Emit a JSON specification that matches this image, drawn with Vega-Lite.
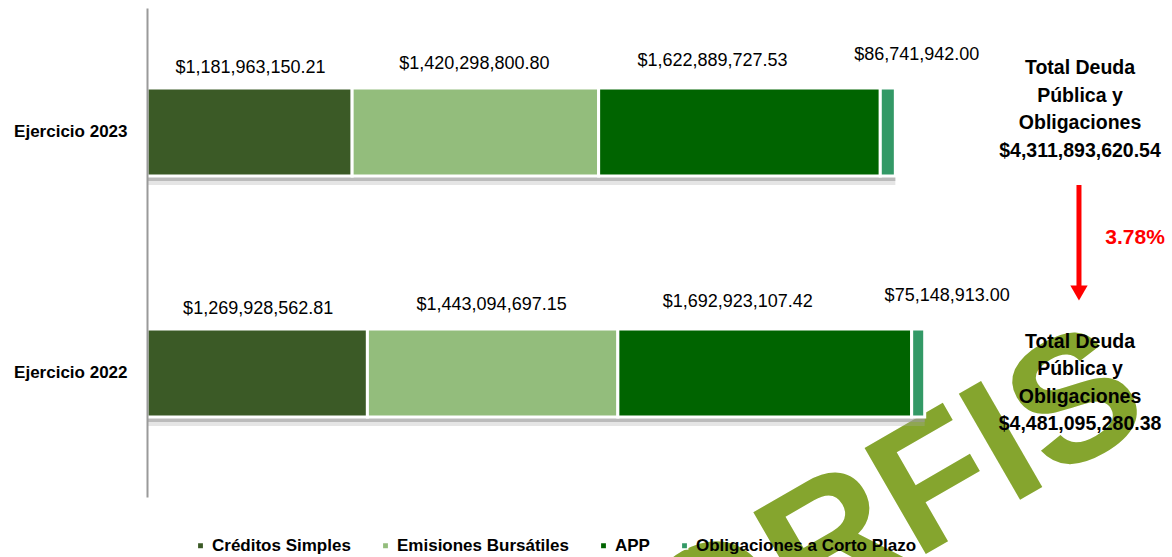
{
  "$schema": "https://vega.github.io/schema/vega-lite/v6.json",
  "width": 1025,
  "height": 489,
  "autosize": {"type": "none"},
  "padding": {"left": 147, "top": 8, "right": 0, "bottom": 60},
  "background": "white",
  "config": {
    "view": {"stroke": null},
    "font": "Liberation Sans"
  },
  "datasets": {
    "deuda": [
      {"year": "Ejercicio 2023", "cat": "Créditos Simples", "order": 1, "value": 1181963150.21},
      {"year": "Ejercicio 2023", "cat": "Emisiones Bursátiles", "order": 2, "value": 1420298800.80},
      {"year": "Ejercicio 2023", "cat": "APP", "order": 3, "value": 1622889727.53},
      {"year": "Ejercicio 2023", "cat": "Obligaciones a Corto Plazo", "order": 4, "value": 86741942.00},
      {"year": "Ejercicio 2022", "cat": "Créditos Simples", "order": 1, "value": 1269928562.81},
      {"year": "Ejercicio 2022", "cat": "Emisiones Bursátiles", "order": 2, "value": 1443094697.15},
      {"year": "Ejercicio 2022", "cat": "APP", "order": 3, "value": 1692923107.42},
      {"year": "Ejercicio 2022", "cat": "Obligaciones a Corto Plazo", "order": 4, "value": 75148913.00}
    ]
  },
  "resolve": {"scale": {"y": "independent"}},
  "layer": [
    {
      "data": {"values": [{}]},
      "mark": {"type": "text", "text": "ORFIS", "font": "Liberation Sans", "fontWeight": "bold", "fontSize": 178, "angle": -30, "align": "center", "baseline": "middle", "color": "#85A52E"},
      "encoding": {
        "x": {"datum": 4300000000, "type": "quantitative", "scale": {"domain": [0, 5906000000], "nice": false, "zero": true}, "axis": null},
        "y": {"datum": -0.3, "type": "quantitative", "scale": {"domain": [0, 10], "nice": false}, "axis": null}
      }
    },
    {
      "data": {"name": "deuda"},
      "mark": {"type": "bar", "color": "#aaaaaa", "opacity": 0.3},
      "encoding": {
        "y": {"field": "year", "type": "nominal", "title": null, "axis": null,
          "scale": {"domain": ["Ejercicio 2023", "Ejercicio 2022"], "range": [9, 498], "paddingInner": 0.635, "paddingOuter": 0.332}},
        "x": {"aggregate": "sum", "field": "value", "type": "quantitative", "scale": {"domain": [0, 5906000000], "nice": false, "zero": true}, "axis": null}
      }
    },
    {
      "data": {"name": "deuda"},
      "mark": {"type": "bar", "color": "#999999", "opacity": 0.55},
      "encoding": {
        "y": {"field": "year", "type": "nominal", "title": null, "axis": null,
          "scale": {"domain": ["Ejercicio 2023", "Ejercicio 2022"], "range": [5, 494], "paddingInner": 0.635, "paddingOuter": 0.332}},
        "x": {"aggregate": "sum", "field": "value", "type": "quantitative", "scale": {"domain": [0, 5906000000], "nice": false, "zero": true}, "axis": null}
      }
    },
    {
      "data": {"name": "deuda"},
      "transform": [
        {"stack": "value", "groupby": ["year"], "sort": [{"field": "order", "order": "ascending"}], "as": ["v0", "v1"]},
        {"calculate": "(datum.v0 + datum.v1) / 2", "as": "mid"}
      ],
      "layer": [
        {
          "mark": {"type": "bar", "stroke": "white", "strokeWidth": 3},
          "encoding": {
            "y": {"field": "year", "type": "nominal", "title": null,
              "scale": {"domain": ["Ejercicio 2023", "Ejercicio 2022"], "paddingInner": 0.635, "paddingOuter": 0.332},
              "axis": {"ticks": false, "domainColor": "#9a9a9a", "domainWidth": 2, "labelFontWeight": "bold", "labelFontSize": 17, "labelColor": "black", "labelPadding": 20, "labelFont": "Liberation Sans", "zindex": 1}},
            "x": {"field": "v0", "type": "quantitative", "scale": {"domain": [0, 5906000000], "nice": false, "zero": true}, "axis": null},
            "x2": {"field": "v1"},
            "color": {"field": "cat", "type": "nominal",
              "scale": {"domain": ["Créditos Simples", "Emisiones Bursátiles", "APP", "Obligaciones a Corto Plazo"], "range": ["#3B5A26", "#93BD7C", "#006400", "#339966"]},
              "legend": {"title": null, "orient": "none", "legendX": 45, "legendY": 529, "direction": "horizontal", "symbolType": "square", "symbolSize": 40, "labelFontWeight": "bold", "labelFontSize": 17, "labelColor": "black", "labelFont": "Liberation Sans", "labelLimit": 500, "columnPadding": 26, "labelOffset": 3, "padding": 0}}
          }
        },
        {
          "transform": [{"filter": "datum.order == 1"}],
          "mark": {"type": "text", "fontSize": 18, "dx": 1, "dy": -64, "color": "black", "baseline": "middle"},
          "encoding": {
            "y": {"field": "year", "type": "nominal", "title": null},
            "x": {"field": "mid", "type": "quantitative", "axis": null},
            "text": {"field": "value", "type": "quantitative", "format": "$,.2f"}
          }
        },
        {
          "transform": [{"filter": "datum.order == 2"}],
          "mark": {"type": "text", "fontSize": 18, "dx": -1, "dy": -68, "color": "black", "baseline": "middle"},
          "encoding": {
            "y": {"field": "year", "type": "nominal", "title": null},
            "x": {"field": "mid", "type": "quantitative", "axis": null},
            "text": {"field": "value", "type": "quantitative", "format": "$,.2f"}
          }
        },
        {
          "transform": [{"filter": "datum.order == 3"}],
          "mark": {"type": "text", "fontSize": 18, "dx": -27, "dy": -71, "color": "black", "baseline": "middle"},
          "encoding": {
            "y": {"field": "year", "type": "nominal", "title": null},
            "x": {"field": "mid", "type": "quantitative", "axis": null},
            "text": {"field": "value", "type": "quantitative", "format": "$,.2f"}
          }
        },
        {
          "transform": [{"filter": "datum.order == 4"}],
          "mark": {"type": "text", "fontSize": 18, "dx": 29, "dy": -77, "color": "black", "baseline": "middle"},
          "encoding": {
            "y": {"field": "year", "type": "nominal", "title": null},
            "x": {"field": "mid", "type": "quantitative", "axis": null},
            "text": {"field": "value", "type": "quantitative", "format": "$,.2f"}
          }
        }
      ]
    },
    {
      "data": {"values": [{}]},
      "layer": [
        {
          "mark": {"type": "text", "text": ["Total Deuda", "Pública y", "Obligaciones", "$4,311,893,620.54"], "fontSize": 19.5, "fontWeight": "bold", "lineHeight": 27.5, "align": "center", "baseline": "middle", "color": "black"},
          "encoding": {
            "x": {"datum": 5376000000, "type": "quantitative", "axis": null},
            "y": {"datum": 8.773, "type": "quantitative", "scale": {"domain": [0, 10], "nice": false}, "axis": null}
          }
        },
        {
          "mark": {"type": "text", "text": ["Total Deuda", "Pública y", "Obligaciones", "$4,481,095,280.38"], "fontSize": 19.5, "fontWeight": "bold", "lineHeight": 27.5, "align": "center", "baseline": "middle", "color": "black"},
          "encoding": {
            "x": {"datum": 5376000000, "type": "quantitative", "axis": null},
            "y": {"datum": 3.17, "type": "quantitative", "axis": null}
          }
        },
        {
          "mark": {"type": "rule", "color": "#FF0000", "strokeWidth": 5},
          "encoding": {
            "x": {"datum": 5370000000, "type": "quantitative", "axis": null},
            "y": {"datum": 6.38, "type": "quantitative", "axis": null},
            "y2": {"datum": 4.27}
          }
        },
        {
          "mark": {"type": "point", "shape": "triangle-down", "filled": true, "color": "#FF0000", "size": 300, "opacity": 1},
          "encoding": {
            "x": {"datum": 5370000000, "type": "quantitative", "axis": null},
            "y": {"datum": 4.17, "type": "quantitative", "axis": null}
          }
        },
        {
          "mark": {"type": "text", "text": "3.78%", "fontSize": 21, "fontWeight": "bold", "align": "center", "baseline": "middle", "color": "#FF0000"},
          "encoding": {
            "x": {"datum": 5693000000, "type": "quantitative", "axis": null},
            "y": {"datum": 5.30, "type": "quantitative", "axis": null}
          }
        }
      ]
    }
  ]
}
